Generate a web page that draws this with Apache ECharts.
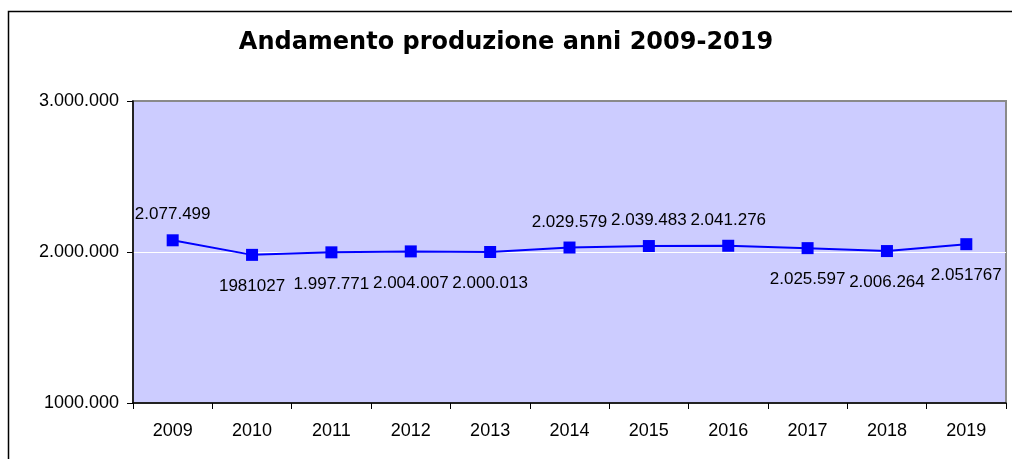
<!DOCTYPE html>
<html>
<head>
<meta charset="utf-8">
<script src="https://cdn.jsdelivr.net/npm/echarts@6/dist/echarts.min.js"></script>
<style>
html,body{margin:0;padding:0;background:#fff;}
#chart{width:1012px;height:459px;}
</style>
</head>
<body>
<div id="chart"></div>
<script>
var titleText = 'Andamento produzione anni 2009-2019';
var categories = ['2009','2010','2011','2012','2013','2014','2015','2016','2017','2018','2019'];
var production = [2077499, 1981027, 1997771, 2004007, 2000013, 2029579, 2039483, 2041276, 2025597, 2006264, 2051767];
var pointLabels = ['2.077.499','1981027','1.997.771','2.004.007','2.000.013','2.029.579','2.039.483','2.041.276','2.025.597','2.006.264','2.051767'];
var yTicks = [1000000, 2000000, 3000000];
var yTickLabels = ['1000.000','2.000.000','3.000.000'];

var aboveYears = ['2009','2014','2015','2016'];

var chart = echarts.init(document.getElementById('chart'));
var seriesData = production.map(function (v, i) {
  var above = aboveYears.indexOf(categories[i]) >= 0;
  return {
    value: v,
    label: {
      position: above ? 'top' : 'bottom',
      distance: above ? 11 : 17,
      formatter: pointLabels[i]
    }
  };
});

chart.setOption({
  animation: false,
  backgroundColor: '#ffffff',
  textStyle: { fontFamily: 'Liberation Sans, Arial, sans-serif' },
  title: {
    text: titleText,
    left: 'center',
    top: 26,
    textStyle: { fontFamily: 'DejaVu Sans', fontWeight: 'bold', fontSize: 24, color: '#000' }
  },
  graphic: [{
    type: 'polyline',
    shape: { points: [[8.5, 470], [8.5, 11.5], [1030, 11.5]] },
    style: { fill: null, stroke: '#000', lineWidth: 1.5 },
    silent: true, z: -1
  }],
  grid: {
    left: 133, right: 6, top: 101, bottom: 56,
    show: true,
    backgroundColor: '#CCCCFF',
    borderColor: '#8a8a8a',
    borderWidth: 2
  },
  xAxis: {
    type: 'category',
    data: categories,
    boundaryGap: true,
    axisLine: { lineStyle: { color: '#000', width: 1.5 } },
    axisTick: { show: true, length: 6, lineStyle: { color: '#000' } },
    axisLabel: { color: '#000', fontSize: 18, margin: 19, fontFamily: 'Liberation Sans' },
    splitLine: { show: false }
  },
  yAxis: {
    type: 'value',
    min: yTicks[0],
    max: yTicks[yTicks.length - 1],
    interval: yTicks[1] - yTicks[0],
    axisLine: { show: true, lineStyle: { color: '#000', width: 1.5 } },
    axisTick: { show: true, length: 6, lineStyle: { color: '#000' } },
    axisLabel: {
      color: '#000', fontSize: 18, margin: 14, fontFamily: 'Liberation Sans',
      formatter: function (v) {
        var i = yTicks.indexOf(v);
        return i >= 0 ? yTickLabels[i] : '';
      }
    },
    splitLine: { show: true, lineStyle: { color: ['transparent', '#ffffff', 'transparent'], width: 1 } }
  },
  series: [{
    type: 'line',
    data: seriesData,
    symbol: 'rect',
    symbolSize: 12,
    lineStyle: { color: '#0000FF', width: 2 },
    itemStyle: { color: '#0000FF' },
    label: { show: true, color: '#000', fontSize: 17, fontFamily: 'Liberation Sans' },
    z: 5
  }]
});
</script>
</body>
</html>
